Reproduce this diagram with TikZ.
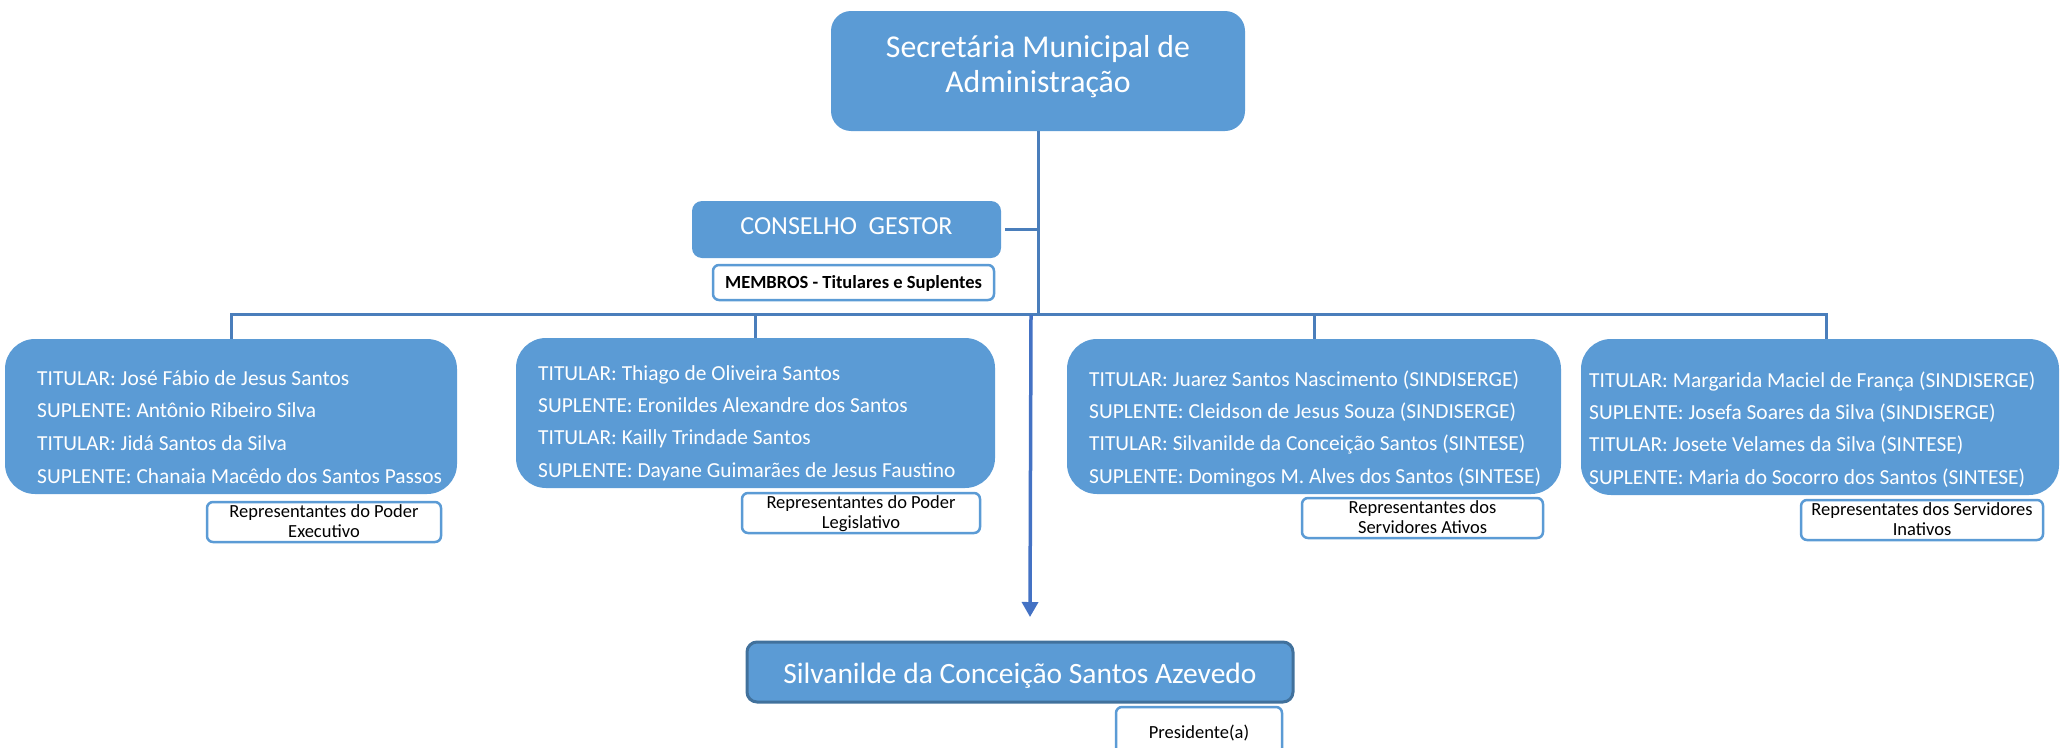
\documentclass[tikz,border=0pt]{standalone}
\usepackage{fontspec}
\setmainfont{Carlito}
\usetikzlibrary{arrows.meta}
\definecolor{boxblue}{HTML}{5B9BD5}
\definecolor{linecol}{HTML}{4A7EBB}
\definecolor{arrowcol}{HTML}{4472C4}
\definecolor{darkborder}{HTML}{41719C}
\definecolor{subborder}{HTML}{5B9BD5}
\begin{document}
\begin{tikzpicture}[x=1pt,y=-1pt,
  bluebox/.style={draw=none, fill=boxblue, rounded corners=#1, inner sep=0pt},
  subbox/.style={draw=subborder, line width=2.5pt, fill=white, rounded corners=6pt, inner sep=0pt},
  memtext/.style={text=white, anchor=base west, inner sep=0pt, font=\fontsize{21.4}{25}\selectfont},
  subtext/.style={text=black, anchor=base, inner sep=0pt, font=\fontsize{18.5}{20}\selectfont},
  conn/.style={draw=linecol, line width=3pt},
  arrowline/.style={draw=arrowcol, line width=3.5pt, -{Triangle[width=16pt,length=15pt]}}]
\useasboundingbox (0,0) rectangle (2060,747);
\clip (0,0) rectangle (2060,747);

% top box
\node[bluebox=20pt, minimum width=414pt, minimum height=120pt] (sec) at (1038,71) {};
\node[text=white, anchor=base, inner sep=0pt, font=\fontsize{31.8}{35}\selectfont] (sec1) at (1038,57) {Secretária Municipal de};
\node[text=white, anchor=base, inner sep=0pt, font=\fontsize{31.8}{35}\selectfont] (sec2) at (1038,92) {Administração};

% conselho
\node[bluebox=10pt, minimum width=309pt, minimum height=57pt] (cons) at (846.5,229.5) {};
\node[text=white, anchor=base, inner sep=0pt, font=\fontsize{26}{30}\selectfont] (cons1) at (846.5,234) {CONSELHO\ \ GESTOR};
\node[subbox, minimum width=281pt, minimum height=35pt] (memb) at (853.5,282.5) {};
\node[text=black, anchor=base, inner sep=0pt, font=\fontsize{18.5}{22}\selectfont\bfseries] (memb1) at (853.5,288) {MEMBROS - Titulares e Suplentes};

% member boxes
\node[bluebox=30pt, minimum width=452pt, minimum height=155pt] (b1) at (231,416.5) {};
\node[bluebox=30pt, minimum width=479pt, minimum height=150pt] (b2) at (755.5,413) {};
\node[bluebox=30pt, minimum width=494pt, minimum height=155pt] (b3) at (1314,416.5) {};
\node[bluebox=30pt, minimum width=478pt, minimum height=156pt] (b4) at (1820,417) {};

\node[memtext] (b1l1) at (37,385) {TITULAR: José Fábio de Jesus Santos};
\node[memtext] (b1l2) at (37,417.7) {SUPLENTE: Antônio Ribeiro Silva};
\node[memtext] (b1l3) at (37,450.4) {TITULAR: Jidá Santos da Silva};
\node[memtext] (b1l4) at (37,483) {SUPLENTE: Chanaia Macêdo dos Santos Passos};

\node[memtext] (b2l1) at (538,380) {TITULAR: Thiago de Oliveira Santos};
\node[memtext] (b2l2) at (538,412.3) {SUPLENTE: Eronildes Alexandre dos Santos};
\node[memtext] (b2l3) at (538,444.6) {TITULAR: Kailly Trindade Santos};
\node[memtext] (b2l4) at (538,477) {SUPLENTE: Dayane Guimarães de Jesus Faustino};

\node[memtext] (b3l1) at (1089,386) {TITULAR: Juarez Santos Nascimento (SINDISERGE)};
\node[memtext] (b3l2) at (1089,418.3) {SUPLENTE: Cleidson de Jesus Souza (SINDISERGE)};
\node[memtext] (b3l3) at (1089,450.6) {TITULAR: Silvanilde da Conceição Santos (SINTESE)};
\node[memtext] (b3l4) at (1089,483) {SUPLENTE: Domingos M. Alves dos Santos (SINTESE)};

\node[memtext] (b4l1) at (1589,387) {TITULAR: Margarida Maciel de França (SINDISERGE)};
\node[memtext] (b4l2) at (1589,419.3) {SUPLENTE: Josefa Soares da Silva (SINDISERGE)};
\node[memtext] (b4l3) at (1589,451.6) {TITULAR: Josete Velames da Silva (SINTESE)};
\node[memtext] (b4l4) at (1589,484) {SUPLENTE: Maria do Socorro dos Santos (SINTESE)};

% sub labels
\node[subbox, minimum width=234pt, minimum height=40pt] (s1) at (324,522) {};
\node[subtext] (s1a) at (324,517.5) {Representantes do Poder};
\node[subtext] (s1b) at (324,537) {Executivo};
\node[subbox, minimum width=238pt, minimum height=40pt] (s2) at (861,513) {};
\node[subtext] (s2a) at (861,508.5) {Representantes do Poder};
\node[subtext] (s2b) at (861,528) {Legislativo};
\node[subbox, minimum width=241pt, minimum height=40pt] (s3) at (1422.5,518) {};
\node[subtext] (s3a) at (1422.5,513.5) {Representantes dos};
\node[subtext] (s3b) at (1422.5,533) {Servidores Ativos};
\node[subbox, minimum width=242pt, minimum height=40pt] (s4) at (1922,520) {};
\node[subtext] (s4a) at (1922,515.5) {Representates dos Servidores};
\node[subtext] (s4b) at (1922,535) {Inativos};

% bottom
\node[draw=darkborder, line width=3pt, fill=boxblue, rounded corners=10pt, inner sep=0pt, minimum width=546pt, minimum height=60pt] (pb) at (1020,672) {};
\node[text=white, anchor=base, inner sep=0pt, font=\fontsize{29.5}{33}\selectfont] (pb1) at (1020,683) {Silvanilde da Conceição Santos Azevedo};
\node[subbox, minimum width=166pt, minimum height=63pt] (pres) at (1199,738.5) {};
\node[subtext] (pres1) at (1199,738) {Presidente(a)};

% connectors
\coordinate (jc) at (1038,314);
\coordinate (jcons) at (1038,229.5);
\coordinate (hl) at (231,314);
\coordinate (j2) at (755.5,314);
\coordinate (j3) at (1314,314);
\coordinate (hr) at (1826,314);
\draw[conn] (sec.south) -- (jc);
\draw[conn] ([xshift=4pt]cons.east) -- (jcons);
\draw[conn] (hl |- b1.north) -- (hl) -- (hr) -- (hr |- b4.north);
\draw[conn] (j2) -- (j2 |- b2.north);
\draw[conn] (j3) -- (j3 |- b3.north);
\coordinate (astart) at (1031,315);
\coordinate (atip) at (1030,617);
\draw[arrowline] (astart) -- (atip);
\end{tikzpicture}
\end{document}
